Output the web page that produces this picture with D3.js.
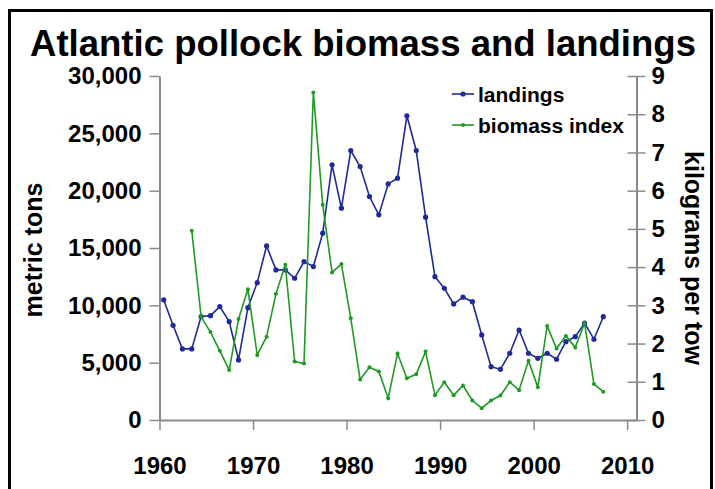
<!DOCTYPE html>
<html>
<head>
<meta charset="utf-8">
<script src="https://cdn.jsdelivr.net/npm/d3@7"></script>
<style>
  html, body { margin: 0; padding: 0; background: #fff; }
  svg { display: block; font-family: "Liberation Sans", Arial, sans-serif; font-weight: bold; }
</style>
</head>
<body>
<svg id="chart" width="715" height="489"></svg>
<script>
const title = "Atlantic pollock biomass and landings";
const leftAxisTitle = "metric tons";
const rightAxisTitle = "kilograms per tow";
const seriesNames = ["landings", "biomass index"];

const landingYears = d3.range(1960, 2008);
const landings = [10470, 8260, 6200, 6200, 9020, 9100, 9890, 8580, 5240, 9800,
  11980, 15180, 13090, 13090, 12360, 13810, 13380, 16290, 22250, 18470,
  23500, 22100, 19490, 17890, 20590, 21090, 26530, 23500, 17690, 12500,
  11490, 10120, 10710, 10320, 7420, 4650, 4420, 5820, 7850, 5820,
  5380, 5820, 5300, 6830, 7270, 8440, 7040, 9010];

const biomassYears = d3.range(1963, 2008);
const biomass = [4.95, 2.70, 2.30, 1.81, 1.31, 2.64, 3.42, 1.70, 2.18, 3.30,
  4.06, 1.53, 1.48, 8.57, 5.63, 3.86, 4.08, 2.66, 1.06, 1.38,
  1.27, 0.57, 1.74, 1.09, 1.20, 1.79, 0.65, 0.99, 0.65, 0.90,
  0.51, 0.31, 0.51, 0.64, 0.99, 0.78, 1.55, 0.86, 2.46, 1.87,
  2.20, 1.90, 2.53, 0.94, 0.74];

const leftTicks = [0, 5000, 10000, 15000, 20000, 25000, 30000];
const rightTicks = [0, 1, 2, 3, 4, 5, 6, 7, 8, 9];
const xTicks = [1960, 1970, 1980, 1990, 2000, 2010];

const blue = "#1f2a9a";
const green = "#1f9a25";
const axisColor = "#8a8a8a";
const pointOffset = 0.45; // points sit slightly right of the year tick

const svg = d3.select("#chart");
svg.append("rect").attr("width", 715).attr("height", 489).attr("fill", "#fff");

// frame
svg.append("path")
  .attr("d", "M9.5,489 V10.5 H711.5 V489")
  .attr("fill", "none").attr("stroke", "#000").attr("stroke-width", 3);

const x = d3.scaleLinear().domain([1960, 2011]).range([159.5, 636.5]);
const yL = d3.scaleLinear().domain([0, 30000]).range([420, 76]);
const yR = d3.scaleLinear().domain([0, 9]).range([420, 76]);

// title
svg.append("text")
  .attr("x", 363).attr("y", 56)
  .attr("text-anchor", "middle")
  .attr("font-size", 37)
  .attr("textLength", 666).attr("lengthAdjust", "spacingAndGlyphs")
  .text(title);

// left axis
const gL = svg.append("g").attr("transform", "translate(159.5,0)")
  .call(d3.axisLeft(yL).tickValues(leftTicks).tickFormat(d3.format(",")).tickSize(10).tickSizeOuter(0).tickPadding(8));
// right axis
const gR = svg.append("g").attr("transform", "translate(636.5,0)")
  .call(d3.axisRight(yR).tickValues(rightTicks).tickSize(9).tickSizeOuter(0).tickPadding(6));
gR.selectAll(".tick line").attr("x1", -9);
// bottom axis
const gB = svg.append("g").attr("transform", "translate(0,420)")
  .call(d3.axisBottom(x).tickValues(xTicks).tickFormat(d3.format("d")).tickSize(10).tickSizeOuter(0).tickPadding(27));

[gL, gR, gB].forEach(g => {
  g.select(".domain").attr("stroke", axisColor).attr("stroke-width", 2);
  g.selectAll(".tick line").attr("stroke", axisColor).attr("stroke-width", 1.5);
  g.selectAll("text").attr("fill", "#000").attr("font-size", 24)
    .attr("font-family", "Liberation Sans, Arial, sans-serif").attr("font-weight", "bold");
});

// axis titles
svg.append("text")
  .attr("transform", "translate(42,250) rotate(-90)")
  .attr("text-anchor", "middle").attr("font-size", 25)
  .text(leftAxisTitle);
svg.append("text")
  .attr("transform", "translate(685,258) rotate(90)")
  .attr("text-anchor", "middle").attr("font-size", 25)
  .text(rightAxisTitle);

// series
const landData = landingYears.map((yr, i) => ({yr, v: landings[i]}));
const bioData = biomassYears.map((yr, i) => ({yr, v: biomass[i]}));

svg.append("path").datum(landData)
  .attr("fill", "none").attr("stroke", blue).attr("stroke-width", 1.6)
  .attr("d", d3.line().x(d => x(d.yr + pointOffset)).y(d => yL(d.v)));
svg.append("g").selectAll("circle").data(landData).join("circle")
  .attr("cx", d => x(d.yr + pointOffset)).attr("cy", d => yL(d.v))
  .attr("r", 2.6).attr("fill", blue);

svg.append("path").datum(bioData)
  .attr("fill", "none").attr("stroke", green).attr("stroke-width", 1.6)
  .attr("d", d3.line().x(d => x(d.yr + pointOffset)).y(d => yR(d.v)));
svg.append("g").selectAll("circle").data(bioData).join("circle")
  .attr("cx", d => x(d.yr + pointOffset)).attr("cy", d => yR(d.v))
  .attr("r", 2).attr("fill", green);

// legend
const legend = svg.append("g");
[[blue, 2.6, 94], [green, 2, 125]].forEach(([c, r, ly], i) => {
  legend.append("line").attr("x1", 452).attr("x2", 474).attr("y1", ly).attr("y2", ly)
    .attr("stroke", c).attr("stroke-width", 1.6);
  legend.append("circle").attr("cx", 463).attr("cy", ly).attr("r", r).attr("fill", c);
  legend.append("text").attr("x", 478).attr("y", ly + 7.5)
    .attr("font-size", 21).text(seriesNames[i]);
});
</script>
</body>
</html>
